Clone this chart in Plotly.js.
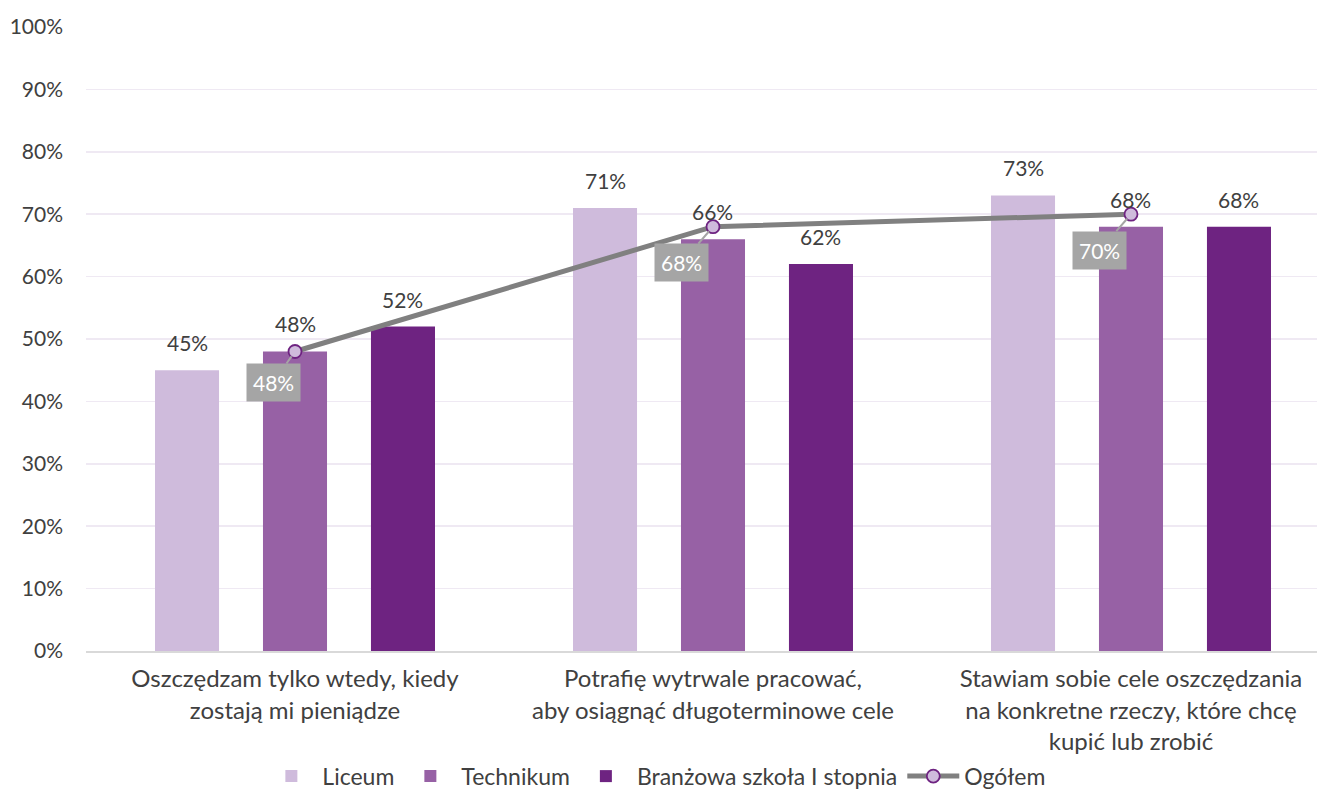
<!DOCTYPE html>
<html>
<head>
<meta charset="utf-8">
<script src="https://cdn.plot.ly/plotly-3.0.1.min.js"></script>
<style>html,body{margin:0;padding:0;background:#fff;}#chart{width:1317px;height:792px;}</style>
</head>
<body>
<div id="chart"></div>
<script>
const categories = [
  "Oszczędzam tylko wtedy, kiedy<br>zostają mi pieniądze",
  "Potrafię wytrwale pracować,<br>aby osiągnąć długoterminowe cele",
  "Stawiam sobie cele oszczędzania<br>na konkretne rzeczy, które chcę<br>kupić lub zrobić"
];
const seriesNames = ["Liceum", "Technikum", "Branżowa szkoła I stopnia"];
const liceum = [45, 71, 73];
const technikum = [48, 66, 68];
const branzowa = [52, 62, 68];
const ogolemName = "Ogółem";
const ogolem = [48, 68, 70];
const yTickVals = [0, 10, 20, 30, 40, 50, 60, 70, 80, 90, 100];
const yTickText = yTickVals.map(v => v + "%");

const colors = ["#CFBBDC", "#9761A5", "#6E2381"];
const FONT = "Lato, 'Open Sans', sans-serif";
const TXT = "#404040";
const bargap = 0.225;
const slot = (1 - bargap) / 3;

const xIdx = categories.map((_, i) => i);
const barSeries = [liceum, technikum, branzowa];

const traces = barSeries.map((vals, j) => ({
  type: "bar",
  name: seriesNames[j],
  x: xIdx,
  y: vals,
  marker: {color: colors[j]},
  hoverinfo: "name+y"
}));
traces.push({
  type: "scatter",
  mode: "lines+markers",
  name: ogolemName,
  x: xIdx,
  y: ogolem,
  line: {color: "#808080", width: 5},
  marker: {size: 13, color: "#CFBBDC", line: {color: "#6E2381", width: 1.8}},
  cliponaxis: false
});

const annotations = [];
barSeries.forEach((vals, j) => {
  vals.forEach((v, i) => {
    annotations.push({
      x: i + (j - 1) * slot, y: v, xref: "x", yref: "y",
      text: v + "%", showarrow: false, yanchor: "bottom", yshift: 13,
      font: {family: FONT, size: 21, color: TXT}
    });
  });
});
const boxOffsets = [[-22, 31], [-31, 36], [-31, 36]];
ogolem.forEach((v, i) => {
  annotations.push({
    x: i, y: v, xref: "x", yref: "y",
    text: v + "%", showarrow: true, arrowhead: 0, arrowwidth: 2,
    arrowcolor: "#A5A5A5", standoff: 6,
    ax: boxOffsets[i][0], ay: boxOffsets[i][1],
    bgcolor: "#A5A5A5", borderpad: 6,
    font: {family: FONT, size: 21, color: "#FFFFFF"}
  });
});

const layout = {
  width: 1317, height: 792,
  margin: {l: 86, r: 0, t: 27, b: 141},
  paper_bgcolor: "#FFFFFF", plot_bgcolor: "#FFFFFF",
  font: {family: FONT, size: 21, color: TXT},
  barmode: "group", bargap: bargap, bargroupgap: 0.407,
  showlegend: true,
  legend: {orientation: "h", x: 0.498, xref: "container", xanchor: "center",
           y: 0.02, yref: "container", yanchor: "middle", itemwidth: 52,
           font: {family: FONT, size: 23, color: TXT}, traceorder: "normal"},
  xaxis: {
    type: "linear", range: [-0.5, 2.445], automargin: false,
    tickvals: xIdx, ticktext: categories,
    showgrid: false, zeroline: false,
    showline: true, linecolor: "#D9D9D9", linewidth: 1.5,
    ticks: "", tickfont: {family: FONT, size: 24, color: TXT},
    ticklabelstandoff: 6
  },
  yaxis: {
    range: [0, 100], tickvals: yTickVals, ticktext: yTickText, automargin: false,
    showgrid: true, gridcolor: "#EFE9F3", gridwidth: 1.5,
    zeroline: false, showline: false, ticks: "",
    tickfont: {family: FONT, size: 21, color: TXT},
    ticklabelstandoff: 22
  },
  annotations: annotations
};

Plotly.newPlot("chart", traces, layout, {displayModeBar: false, staticPlot: true});
</script>
</body>
</html>
